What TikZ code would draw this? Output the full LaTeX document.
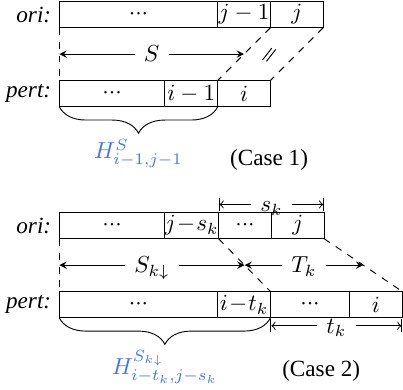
\documentclass[tikz,border=0pt]{standalone}
\usepackage[no-math]{fontspec}
\setmainfont{Liberation Serif}
\usetikzlibrary{positioning,calc,decorations.pathreplacing}
\definecolor{hblue}{RGB}{72,116,230}
\newcommand{\celldots}{${\cdot}{\cdot}{\cdot}$}

\begin{document}
\begin{tikzpicture}[
  cell/.style={draw, inner sep=0pt, outer sep=0pt, minimum height=0.4cm, minimum width=#1},
  cell/.default=0.8cm,
  rowlabel/.style={left=0pt of #1, font=\itshape},
  span/.style={<->, >=stealth},
  barspan/.style={|<->|, >=to},
  spanlabel/.style={fill=white, inner xsep=4pt, inner ysep=0pt, text height=1.4ex, text depth=0pt},
  dashlink/.style={dashed},
  hbrace/.style={decorate, decoration={brace, mirror, amplitude=0.4cm}},
  hlabel/.style={text=hblue, inner sep=1pt, below=0.45cm},
]
\useasboundingbox (-0.9,-5.893) rectangle (5.21,0.02);

% ---------- (Case 1) same state on both sides ----------
\begin{scope}[shift={(0,0)}]
  \node[cell=2.4cm, anchor=north west] (o1a) at (0,0) {\celldots};
  \node[cell, right=0pt of o1a] (o1b) {$j-1$};
  \node[cell, right=0pt of o1b] (o1c) {$j$};
  \node[rowlabel=o1a] (ori1) {ori:};
  \node[cell=1.6cm, anchor=north west] (p1a) at (0,-1.2) {\celldots};
  \node[cell, right=0pt of p1a] (p1b) {$i-1$};
  \node[cell, right=0pt of p1b] (p1c) {$i$};
  \node[rowlabel=p1a] (pert1) {pert:};
  \draw[dashlink] (o1a.south west) -- coordinate (s1l) (p1a.north west);
  \draw[dashlink] (o1b.south east) -- coordinate (s1r) (p1b.north east);
  \draw[dashlink] (o1c.south east) -- coordinate (s1e) (p1c.north east);
  \draw[span] (s1l) -- node[spanlabel] (S1) {$S$} (s1r);
  \coordinate (eq1) at ($(s1r)!0.5!(s1e)$);
  \draw ($(eq1)+(-0.12,-0.09)$) -- ($(eq1)+(0.02,0.09)$);
  \draw ($(eq1)+(-0.06,-0.11)$) -- ($(eq1)+(0.08,0.07)$);
  \draw[hbrace] (p1a.south west) -- node[hlabel] (H1) {$H^{S}_{i-1,j-1}$} (p1b.south east);
  \node (case1) at (3.18,-2.4) {(Case 1)};
\end{scope}

% ---------- (Case 2) shifted by s_k and t_k ----------
\begin{scope}[shift={(0,-3.2)}]
  \node[cell=1.6cm, anchor=north west] (o2a) at (0,0) {\celldots};
  \node[cell, right=0pt of o2a] (o2b) {$j\!-\!s_k$};
  \node[cell, right=0pt of o2b] (o2c) {\celldots};
  \node[cell, right=0pt of o2c] (o2d) {$j$};
  \node[rowlabel=o2a] (ori2) {ori:};
  \node[cell=2.4cm, anchor=north west] (p2a) at (0,-1.2) {\celldots};
  \node[cell, right=0pt of p2a] (p2b) {$i\!-\!t_k$};
  \node[cell=1.2cm, right=0pt of p2b] (p2c) {\celldots};
  \node[cell, right=0pt of p2c] (p2d) {$i$};
  \node[rowlabel=p2a] (pert2) {pert:};
  \draw[dashlink] (o2a.south west) -- coordinate (s2l) (p2a.north west);
  \draw[dashlink] (o2b.south east) -- coordinate (s2m) (p2b.north east);
  \draw[dashlink] (o2d.south east) -- coordinate (s2r) (p2d.north east);
  \draw[span] (s2l) -- node[spanlabel] (S2) {$S_{k\downarrow}$} (s2m);
  \draw[span] (s2m) -- node[spanlabel] (T2) {$T_k$} (s2r);
  \draw[barspan] ([yshift=0.12cm]o2c.north west) -- node[spanlabel] (sk) {$s_k$} ([yshift=0.12cm]o2d.north east);
  \draw[barspan] ([yshift=-0.12cm]p2c.south west) -- node[spanlabel] (tk) {$t_k$} ([yshift=-0.12cm]p2d.south east);
  \draw[hbrace] (p2a.south west) -- node[hlabel] (H2) {$H^{S_{k\downarrow}}_{i-t_k,j-s_k}$} (p2b.south east);
  \node (case2) at (3.97,-2.4) {(Case 2)};
\end{scope}

\end{tikzpicture}
\end{document}
